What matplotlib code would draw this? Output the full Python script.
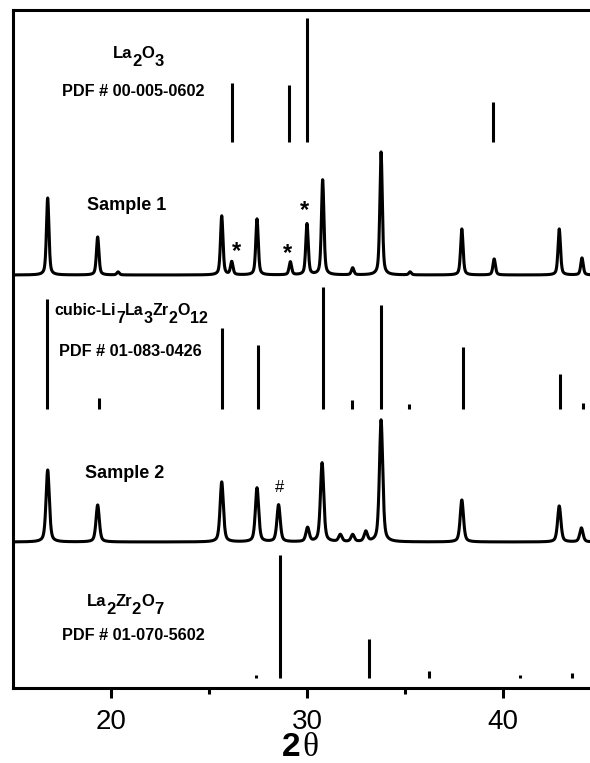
import numpy as np
import matplotlib.pyplot as plt

plt.rcParams['font.family'] = ['Liberation Sans', 'DejaVu Sans']

# reference cards (2theta, relative intensity)
la2o3_pos = [26.16, 29.10, 30.00, 39.50]
la2o3_int = [59, 57, 124, 40]

llzo_pos = [16.73, 19.37, 25.67, 27.48, 30.80, 32.30, 33.78, 35.20, 37.94, 42.93, 44.10]
llzo_int = [110, 11, 81, 64, 122, 9, 104, 5, 62, 35, 6]

lzo_pos = [27.40, 28.64, 33.18, 36.24, 40.88, 43.52]
lzo_int = [3, 123, 39, 7, 3, 5]

# measured patterns, fitted peak list
s1_pos = [16.77, 19.32, 20.36, 25.65, 26.16, 27.45, 29.15, 30.00, 30.80, 32.33,
          33.78, 35.26, 37.90, 39.55, 42.87, 44.03]
s1_int = [77, 38, 3, 59, 13, 56, 13, 51, 95, 7, 123, 3, 46, 16, 46, 17]

s2_pos = [16.77, 19.32, 25.65, 27.45, 28.55, 30.03, 30.77, 31.70, 32.33, 33.00,
          33.78, 37.90, 42.87, 44.00]
s2_int = [72, 37, 60, 54, 37, 14, 79, 7, 7, 10, 122, 42, 36, 14]

# vertical stacking offsets
off_la2o3, off_s1, off_llzo, off_s2, off_lzo = 546, 413, 279, 146, 10


def profile(tt, pos, inten, fwhm, eta=0.5):
    y = np.zeros_like(tt)
    for p, h in zip(pos, inten):
        d = (tt - p) / (fwhm / 2)
        lor = 1 / (1 + d ** 2)
        gau = np.exp(-np.log(2) * d ** 2)
        y += h * (eta * lor + (1 - eta) * gau)
    return y


def formula(ax, x, y, parts, size, drop):
    """Chemical formula with full-size, dropped subscripts.
    parts: list of (text, is_subscript)."""
    kw = dict(fontsize=size, fontweight='bold', ha='left', va='bottom')
    prev = ax.annotate(parts[0][0], xy=(x, y), xycoords='data', **kw)
    level = 0
    for s, sub in parts[1:]:
        new_level = -drop if sub else 0
        prev = ax.annotate(s, xy=(1, 0), xycoords=prev,
                           xytext=(0, new_level - level), textcoords='offset points', **kw)
        level = new_level


tt = np.linspace(15, 45, 3001)

fig = plt.figure(figsize=(5.9, 7.63), dpi=100)
ax = fig.add_axes([13 / 590, 75 / 763, 588 / 590, 678 / 763])

lw = 2.2
ax.plot(tt, off_s1 + profile(tt, s1_pos, s1_int, 0.15), color='black', lw=lw)
ax.plot(tt, off_s2 + profile(tt, s2_pos, s2_int, 0.20), color='black', lw=lw)

for pos, inten, off in [(la2o3_pos, la2o3_int, off_la2o3),
                        (llzo_pos, llzo_int, off_llzo),
                        (lzo_pos, lzo_int, off_lzo)]:
    ax.vlines(pos, off, np.array(inten) + off, color='black', lw=lw)

# labels
formula(ax, 20.10, 627, [('La', 0), ('2', 1), ('O', 0), ('3', 1)], 12, 6)
ax.text(21.12, 597, 'PDF # 00-005-0602', fontsize=11.7, fontweight='bold',
        ha='center', va='center')
ax.text(20.82, 483, 'Sample 1', fontsize=13, fontweight='bold', ha='center', va='center')
for x, y in [(26.38, 436), (29.0, 434), (29.85, 477)]:
    ax.text(x, y, '*', fontsize=17, fontweight='bold', ha='center', va='center')

formula(ax, 17.12, 370, [('cubic-Li', 0), ('7', 1), ('La', 0), ('3', 1), ('Zr', 0),
                         ('2', 1), ('O', 0), ('12', 1)], 11.5, 5.5)
ax.text(20.97, 336, 'PDF # 01-083-0426', fontsize=11.7, fontweight='bold',
        ha='center', va='center')
ax.text(20.71, 214, 'Sample 2', fontsize=13, fontweight='bold', ha='center', va='center')
ax.text(28.62, 200, '#', fontsize=12, ha='center', va='center')

formula(ax, 18.75, 79, [('La', 0), ('2', 1), ('Zr', 0), ('2', 1), ('O', 0), ('7', 1)],
        12, 6)
ax.text(21.12, 52, 'PDF # 01-070-5602', fontsize=11.7, fontweight='bold',
        ha='center', va='center')

ax.set_xlim(15, 45)
ax.set_ylim(0, 678)
ax.set_yticks([])
ax.set_xticks([20, 30, 40])
ax.set_xticks([25, 35], minor=True)
ax.tick_params(axis='x', which='major', direction='out', length=7, width=2.2,
               labelsize=20, pad=8)
ax.tick_params(axis='x', which='minor', direction='out', length=4, width=2.2)
for side in ['left', 'bottom', 'top']:
    ax.spines[side].set_linewidth(2.2)
ax.spines['right'].set_visible(False)

fig.text(301 / 590, 1 - 748 / 763, '2', fontsize=24, fontweight='bold',
         ha='right', va='center')
fig.text(302 / 590, 1 - 748 / 763, 'θ', fontsize=24, family='Liberation Serif',
         ha='left', va='center')

fig.savefig('out.png', dpi=100)
